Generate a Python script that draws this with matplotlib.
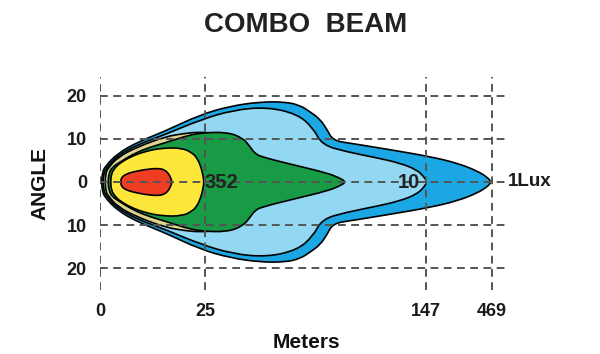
import numpy as np
import matplotlib.pyplot as plt
from matplotlib.path import Path
from matplotlib.patches import PathPatch

plt.rcParams['font.family'] = ['Liberation Sans', 'DejaVu Sans']
plt.rcParams['font.weight'] = 'bold'

# axis ticks (x is a stretched distance axis, labels in meters)
x_tick_pos = [0, 105, 326, 392]
x_tick_labels = ["0", "25", "147", "469"]
y_tick_pos = [20, 10, 0, -10, -20]
y_tick_labels = ["20", "10", "0", "10", "20"]

# half profiles of each illuminance zone: distance, half angle (deg)
lux1_x = [1.5, 2.5, 5, 18, 38, 65, 100, 130, 160, 185, 200, 210, 220, 227, 233, 253, 290, 330, 357, 377, 388, 391]
lux1_w = [0, 2.2, 3.6, 6.7, 9.3, 11.8, 15.6, 17.6, 18.6, 18.6, 17.8, 16.3, 14.6, 12.2, 9.6, 8.9, 7.5, 5.9, 4.4, 2.6, 1.0, 0]

lux10_x = [3, 4, 7, 18, 38, 65, 100, 133, 167, 197, 213, 222, 247, 273, 300, 317, 324, 327]
lux10_w = [0, 2.2, 3.4, 6.2, 8.7, 11.0, 14.4, 16.7, 17.4, 15.8, 12.6, 8.6, 7.0, 5.8, 4.4, 2.8, 1.2, 0]

beige_x = [5, 6, 8, 18, 38, 65, 85, 100, 115, 130, 140]
beige_w = [0, 2.2, 3.2, 5.8, 8.2, 10.5, 11.3, 11.6, 11.3, 9.0, 0]

lux352_x = [8, 9, 12, 20, 31, 45, 65, 85, 100, 127, 143, 150, 155, 162, 193, 227, 240, 246]
lux352_w = [0, 2.0, 3.4, 4.6, 6.2, 7.7, 9.1, 10.6, 11.4, 11.6, 10.2, 8.2, 6.6, 5.8, 4.0, 2.1, 0.9, 0]

yellow_x = [10.5, 11.5, 15, 20, 31, 45, 62, 82, 92, 97, 101, 103, 104]
yellow_w = [0, 2.0, 3.3, 4.4, 5.9, 7.1, 7.9, 7.9, 6.8, 5.6, 3.5, 1.5, 0]

red_x = [20.5, 21.5, 25, 32, 45, 58, 65, 69, 71, 72]
red_w = [0, 1.0, 1.7, 2.3, 2.9, 3.2, 2.8, 1.8, 0.8, 0]

zones = [
    (lux1_x, lux1_w, "#1ba7e3"),
    (lux10_x, lux10_w, "#92d8f3"),
    (beige_x, beige_w, "#ddd58e"),
    (lux352_x, lux352_w, "#179b45"),
    (yellow_x, yellow_w, "#fde73b"),
    (red_x, red_w, "#ef3d22"),
]


def zone_path(zx, zw):
    # closed outline (top side, then mirrored bottom side), drawn as a smooth quadratic curve
    zx = np.array(zx, dtype=float)
    zw = np.array(zw, dtype=float)
    pts = np.column_stack([np.r_[zx, zx[-2:0:-1]], np.r_[zw, -zw[-2:0:-1]]])
    mids = (pts + np.roll(pts, -1, axis=0)) / 2
    verts = [mids[-1]]
    codes = [Path.MOVETO]
    for i in range(len(pts)):
        verts += [pts[i], mids[i]]
        codes += [Path.CURVE3, Path.CURVE3]
    verts.append(mids[-1])
    codes.append(Path.CLOSEPOLY)
    return Path(verts, codes)


fig = plt.figure(figsize=(6, 3.54), dpi=100)
ax = fig.add_axes([100/600, 60/354, 420/600, 224/354])

for i, (zx, zw, col) in enumerate(zones):
    ax.add_patch(PathPatch(zone_path(zx, zw), facecolor=col, edgecolor="black",
                           linewidth=1.2, zorder=1 + i))

dash = (0, (4, 2.8))
ax.hlines(y_tick_pos, 0, 407, colors="#555555", linestyles=dash, linewidth=1.4, zorder=10)
ax.vlines(x_tick_pos, -25.1, 24.4, colors="#555555", linestyles=dash, linewidth=1.4, zorder=10)

ax.text(121, 0, "352", ha="center", va="center", fontsize=14.5, color="#222222", zorder=11)
ax.text(309, 0, "10", ha="center", va="center", fontsize=14.5, color="#222222", zorder=11)
ax.text(408, 0, "1Lux", ha="left", va="center", fontsize=13.5, color="#1a1a1a", zorder=11)

ax.set_xlim(0, 420)
ax.set_ylim(-26, 26)
ax.set_xticks(x_tick_pos, x_tick_labels)
ax.set_yticks(y_tick_pos, y_tick_labels)
ax.tick_params(length=0, labelsize=13, labelcolor="#1a1a1a")
ax.tick_params(axis="y", pad=9.4)
ax.tick_params(axis="x", pad=6.5)
for s in ax.spines.values():
    s.set_visible(False)

fig.text(306/600, 1 - 25/354, "COMBO  BEAM", ha="center", va="center", fontsize=20, color="#222222")
fig.text(306/600, 1 - 343/354, "Meters", ha="center", va="center", fontsize=15, color="#111111")
fig.text(40/600, 1 - 184/354, "ANGLE", ha="center", va="center", rotation=90, fontsize=15, color="#111111")

fig.savefig("out.png", dpi=100)
